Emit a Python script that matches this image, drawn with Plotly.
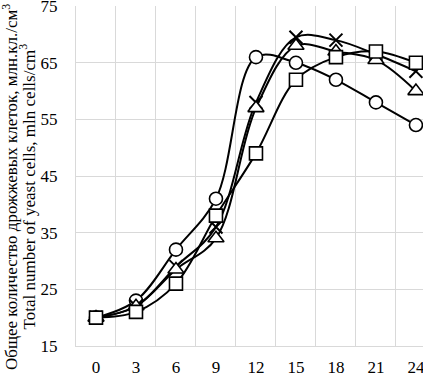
import plotly.graph_objects as go

hours = [0, 3, 6, 9, 12, 15, 18, 21, 24]
s_circle = [20, 23, 32, 41, 66, 65, 62, 58, 54]
s_cross = [20, 22, 29, 36, 58, 69.5, 69, 66.5, 63.5]
s_triangle = [20, 22, 28.5, 34, 57, 68, 67, 65.5, 60]
s_square = [20, 21, 26, 38, 49, 62, 66, 67, 65]
y_ticks = [15, 25, 35, 45, 55, 65, 75]
grid_x = [-1.5, 1.5, 4.5, 7.5, 10.5, 13.5, 16.5, 19.5, 22.5]

FONT = "Liberation Serif, Times New Roman, DejaVu Serif, serif"
series = [
    ("circle", s_circle, "circle", 13),
    ("cross", s_cross, "x-thin", 13),
    ("triangle", s_triangle, "triangle-up", 14),
    ("square", s_square, "square", 13),
]

fig = go.Figure()
for name, ys, sym, sz in series:
    fig.add_trace(go.Scatter(
        x=hours, y=ys, name=name, mode="lines+markers",
        line=dict(color="black", width=2, shape="spline", smoothing=1.0),
        marker=dict(symbol=sym, size=sz, color="white",
                    line=dict(color="black", width=2 if sym == "x-thin" else 1.6)),
        showlegend=False, cliponaxis=False,
    ))

fig.update_layout(
    width=423, height=375,
    margin=dict(l=76, r=0, t=6, b=29, autoexpand=False),
    paper_bgcolor="white", plot_bgcolor="white",
    font=dict(family=FONT, size=17, color="black"),
)
fig.update_xaxes(
    range=[-1.5, 24.53], tickmode="array", tickvals=hours,
    ticktext=[str(h) for h in hours], showgrid=False, zeroline=False,
    ticks="", ticklabelstandoff=5, automargin=False, ticklabeloverflow="allow",
    minor=dict(tickmode="array", tickvals=grid_x, showgrid=True,
               gridcolor="#d9d9d9", gridwidth=1.3, ticks=""),
    showline=True, linecolor="#d9d9d9", linewidth=1.3,
)
fig.update_yaxes(
    range=[14.98, 75.03], tickmode="array", tickvals=y_ticks,
    showgrid=True, gridcolor="#d9d9d9", gridwidth=1.3, zeroline=False,
    ticks="", ticklabelstandoff=14, automargin=False, ticklabeloverflow="allow",
    showline=True, linecolor="#d9d9d9", linewidth=1.3,
)
fig.add_annotation(
    text="Общее количество дрожжевых клеток, млн.кл./см<sup>3</sup>",
    xref="paper", yref="paper", x=(10 - 76) / 347, y=(346 - 187) / 340,
    xanchor="center", yanchor="middle", textangle=-90, showarrow=False,
    font=dict(family=FONT, size=17, color="black"),
)
fig.add_annotation(
    text="Total number of yeast cells, mln cells/cm<sup>3</sup>",
    xref="paper", yref="paper", x=(27.5 - 76) / 347, y=(346 - 187) / 340,
    xanchor="center", yanchor="middle", textangle=-90, showarrow=False,
    font=dict(family=FONT, size=17, color="black"),
)
fig.write_html(
    "out.html",
    config={"displayModeBar": False},
    post_script="document.body.style.margin='0';document.body.style.overflow='hidden';",
)
